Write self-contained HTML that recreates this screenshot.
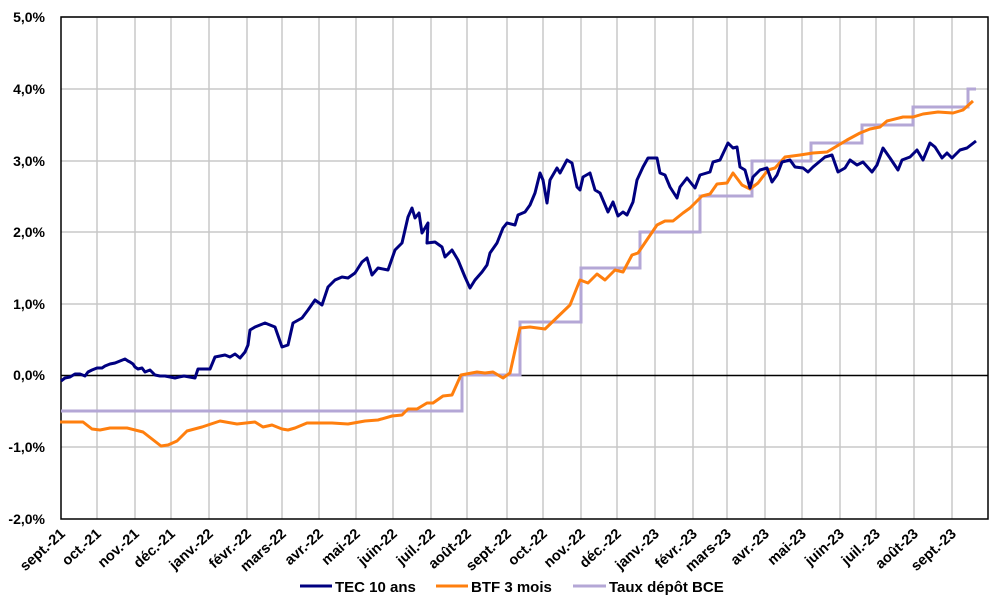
<!DOCTYPE html>
<html><head><meta charset="utf-8"><style>
html,body{margin:0;padding:0;background:#fff;}
svg{display:block;font-family:"Liberation Sans",sans-serif;font-weight:bold;}
</style></head><body>
<svg width="1001" height="613" viewBox="0 0 1001 613" xmlns="http://www.w3.org/2000/svg">
<g stroke="#c8c8c8" stroke-width="1.5">
<line x1="61" y1="17" x2="988" y2="17"/><line x1="61" y1="89" x2="988" y2="89"/><line x1="61" y1="161" x2="988" y2="161"/><line x1="61" y1="232" x2="988" y2="232"/><line x1="61" y1="304" x2="988" y2="304"/><line x1="61" y1="447" x2="988" y2="447"/>
<line x1="97" y1="17" x2="97" y2="519"/><line x1="135" y1="17" x2="135" y2="519"/><line x1="171" y1="17" x2="171" y2="519"/><line x1="209" y1="17" x2="209" y2="519"/><line x1="247" y1="17" x2="247" y2="519"/><line x1="282" y1="17" x2="282" y2="519"/><line x1="319" y1="17" x2="319" y2="519"/><line x1="356" y1="17" x2="356" y2="519"/><line x1="393" y1="17" x2="393" y2="519"/><line x1="431" y1="17" x2="431" y2="519"/><line x1="467" y1="17" x2="467" y2="519"/><line x1="507" y1="17" x2="507" y2="519"/><line x1="543" y1="17" x2="543" y2="519"/><line x1="581" y1="17" x2="581" y2="519"/><line x1="617" y1="17" x2="617" y2="519"/><line x1="655" y1="17" x2="655" y2="519"/><line x1="693" y1="17" x2="693" y2="519"/><line x1="727" y1="17" x2="727" y2="519"/><line x1="765" y1="17" x2="765" y2="519"/><line x1="802" y1="17" x2="802" y2="519"/><line x1="840" y1="17" x2="840" y2="519"/><line x1="876" y1="17" x2="876" y2="519"/><line x1="914" y1="17" x2="914" y2="519"/><line x1="952" y1="17" x2="952" y2="519"/>
</g>
<rect x="61" y="17" width="927" height="502" fill="none" stroke="#000" stroke-width="1.5"/>
<line x1="61" y1="375.5" x2="988" y2="375.5" stroke="#000" stroke-width="1.5"/>
<polyline fill="none" stroke="#b4a7d6" stroke-width="3" points="61,411 462,411 462,375 520,375 520,322 581,322 581,268 640,268 640,232 700,232 700,196 752,196 752,161 811,161 811,143 862,143 862,125 913,125 913,107 968,107 968,89 976,89"/>
<polyline fill="none" stroke="#ff7f0e" stroke-width="3" stroke-linejoin="round" points="60,422 83,422 92,429 100,430 110,428 127,428 143,432 161,446 168,445 177,441 187,431 202,427 220,421 237,424 255,422 263,427 272,425 282,429 288,430 295,428 307,423 332,423 348,424 365,421 378,420 392,416 402,415 408,409 417,409 427,403 433,403 443,396 452,395 461,375 477,372 485,373 493,372 503,378 510,373 520,328 530,327 545,329 570,305 580,280 588,283 597,274 605,280 615,270 623,272 632,255 638,253 657,225 665,221 673,221 683,213 690,208 702,196 710,194 717,184 727,183 733,173 742,185 750,189 758,183 768,170 775,168 785,157 800,155 813,153 827,152 847,140 860,133 870,129 880,127 887,121 903,117 913,117 923,114 938,112 953,113 963,110 973,101"/>
<polyline fill="none" stroke="#000080" stroke-width="3" stroke-linejoin="round" points="61,381 65,378 70,377 75,374 80,374 85,376 88,372 92,370 97,368 102,368 105,366 110,364 115,363 120,361 125,359 128,361 130,362 133,364 135,367 138,369 142,368 145,372 150,370 155,375 160,376 165,376 170,377 175,378 179,377 184,376 195,378 198,369 210,369 215,357 225,355 230,357 235,354 240,358 245,352 248,345 250,330 255,327 265,323 275,327 282,347 288,345 293,323 302,318 308,310 315,300 322,305 328,287 335,280 342,277 348,278 355,273 362,262 367,258 372,275 378,268 388,270 395,250 402,243 408,217 412,208 415,218 419,213 422,233 428,223 427,243 435,242 442,247 445,257 452,250 458,260 465,277 470,288 475,280 482,272 487,265 490,253 497,243 503,228 507,223 515,225 518,215 525,212 530,205 535,193 540,173 543,180 547,203 550,180 557,168 560,173 567,160 572,163 577,187 580,190 583,177 590,173 595,190 600,193 608,212 613,202 618,216 623,212 627,215 633,202 637,180 643,167 648,158 657,158 660,173 665,175 670,187 677,198 680,187 687,178 695,188 700,175 710,172 713,162 720,160 728,143 733,148 737,147 740,167 745,170 750,188 753,177 760,170 767,168 772,182 777,175 782,162 790,160 795,167 803,168 808,172 813,167 825,157 832,155 838,172 845,168 850,160 857,165 863,162 872,172 877,165 883,148 890,158 898,170 902,160 910,157 917,150 923,160 930,143 935,147 942,158 947,153 952,158 960,150 967,148 976,141"/>
<g font-size="14" text-anchor="end" fill="#000">
<text x="45" y="22">5,0%</text><text x="45" y="94">4,0%</text><text x="45" y="166">3,0%</text><text x="45" y="237">2,0%</text><text x="45" y="309">1,0%</text><text x="45" y="380">0,0%</text><text x="45" y="452">-1,0%</text><text x="45" y="524">-2,0%</text>
</g>
<g font-size="14.5" text-anchor="end" fill="#000">
<text transform="translate(66,535) rotate(-42)">sept.-21</text>
<text transform="translate(102,535) rotate(-42)">oct.-21</text>
<text transform="translate(140,535) rotate(-42)">nov.-21</text>
<text transform="translate(176,535) rotate(-42)">déc.-21</text>
<text transform="translate(214,535) rotate(-42)">janv.-22</text>
<text transform="translate(252,535) rotate(-42)">févr.-22</text>
<text transform="translate(287,535) rotate(-42)">mars-22</text>
<text transform="translate(324,535) rotate(-42)">avr.-22</text>
<text transform="translate(361,535) rotate(-42)">mai-22</text>
<text transform="translate(398,535) rotate(-42)">juin-22</text>
<text transform="translate(436,535) rotate(-42)">juil.-22</text>
<text transform="translate(472,535) rotate(-42)">août-22</text>
<text transform="translate(512,535) rotate(-42)">sept.-22</text>
<text transform="translate(548,535) rotate(-42)">oct.-22</text>
<text transform="translate(586,535) rotate(-42)">nov.-22</text>
<text transform="translate(622,535) rotate(-42)">déc.-22</text>
<text transform="translate(660,535) rotate(-42)">janv.-23</text>
<text transform="translate(698,535) rotate(-42)">févr.-23</text>
<text transform="translate(732,535) rotate(-42)">mars-23</text>
<text transform="translate(770,535) rotate(-42)">avr.-23</text>
<text transform="translate(807,535) rotate(-42)">mai-23</text>
<text transform="translate(845,535) rotate(-42)">juin-23</text>
<text transform="translate(881,535) rotate(-42)">juil.-23</text>
<text transform="translate(919,535) rotate(-42)">août-23</text>
<text transform="translate(957,535) rotate(-42)">sept.-23</text>
</g>
<g font-size="15" fill="#000">
<line x1="300" y1="586" x2="332" y2="586" stroke="#000080" stroke-width="3"/><text x="335" y="592">TEC 10 ans</text>
<line x1="436" y1="586" x2="468" y2="586" stroke="#ff7f0e" stroke-width="3"/><text x="471" y="592">BTF 3 mois</text>
<line x1="573" y1="586" x2="606" y2="586" stroke="#b4a7d6" stroke-width="3"/><text x="609" y="592">Taux dépôt BCE</text>
</g>
</svg>
</body></html>
